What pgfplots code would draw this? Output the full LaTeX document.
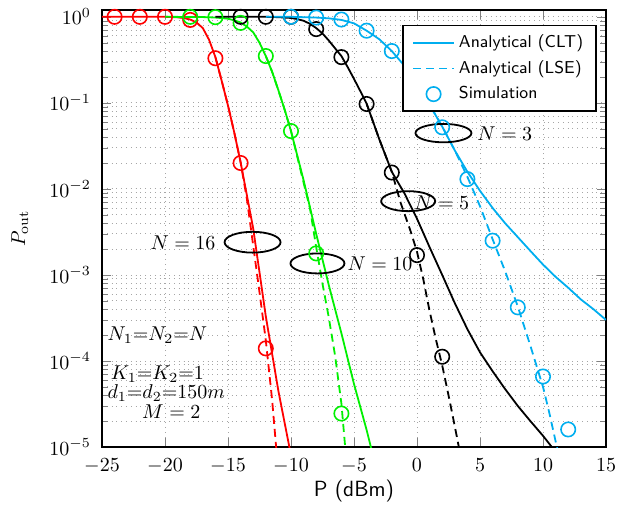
\documentclass[border=0pt]{standalone}
\usepackage{pgfplots}
\pgfplotsset{compat=1.18}
\definecolor{cred}{RGB}{255,0,0}
\definecolor{cgreen}{RGB}{0,240,0}
\definecolor{cblue}{RGB}{0,174,239}
\pgfplotsset{
  longline/.style={legend image code/.code={\draw[##1] (0cm,0cm) -- (0.72cm,0cm);}},
  circlemark/.style={legend image code/.code={\draw[##1] (0.36cm,0cm) circle (3.6pt);}},
}
\begin{document}
\begin{tikzpicture}
\begin{axis}[
  scale only axis,
  width=252pt, height=218.5pt,
  xmin=-25, xmax=15,
  ymin=1e-5, ymax=1.2,
  ymode=log,
  xtick={-25,-20,...,15},
  grid=both,
  major grid style={dotted, gray!70},
  minor grid style={dotted, gray!70},
  axis line style={line width=0.8pt},
  xticklabel style={yshift=-2.2pt},
  yticklabel style={xshift=-2pt},
  xlabel={\fontsize{11}{13}\selectfont\sffamily P (dBm)},
  xlabel style={at={(axis description cs:0.5,0)}, anchor=center, yshift=-22pt},
  ylabel={$P_{\mathrm{out}}$},
  ylabel style={at={(axis description cs:-0.163,0.5)}, anchor=center},
  legend style={at={(0.982,0.966)}, anchor=north east,
    font=\sffamily\fontsize{8.6}{10}\selectfont,
    draw=black, line width=0.8pt, fill=white, row sep=1pt, cells={anchor=west},
    inner xsep=4.5pt, inner ysep=2.5pt},
  every axis plot/.append style={line width=0.9pt},
]
\addlegendimage{cblue, solid, line width=0.9pt, longline}
\addlegendentry{Analytical (CLT)}
\addlegendimage{cblue, dash pattern=on 4pt off 2.5pt, line width=0.9pt, longline}
\addlegendentry{Analytical (LSE)}
\addlegendimage{cblue, line width=0.8pt, circlemark}
\addlegendentry{Simulation}

% N = 16
\addplot[cred, forget plot] coordinates {
  (-25,1) (-20,1) (-19.5,0.995) (-19,0.986) (-18.5,0.966) (-18,0.93) (-17.5,0.86)
  (-17,0.74) (-16.5,0.54) (-16,0.34) (-15.5,0.18) (-15,0.093) (-14.5,0.045)
  (-14,0.0204) (-13,3.47e-3) (-12,3.31e-4) (-11,4.47e-5) (-10.13,1e-5) (-9.8,5.6e-6)
};
\addplot[cred, dash pattern=on 4pt off 2.5pt, forget plot] coordinates {
  (-16,0.34) (-15.5,0.18) (-15,0.093) (-14.5,0.045) (-14,0.0204) (-13.5,7.6e-3)
  (-13,2.19e-3) (-12.5,6.3e-4) (-12,1.74e-4) (-11.5,3.55e-5) (-11.18,1e-5) (-11.0,5e-6)
};
\addplot[cred, only marks, mark=o, mark size=3.6pt, mark options={line width=0.8pt}, forget plot] coordinates {
  (-24,1) (-22,1) (-20,1) (-18,0.92) (-16,0.33) (-14,0.020) (-12,1.4e-4)
};

% N = 10
\addplot[cgreen, forget plot] coordinates {
  (-20,1) (-17,0.993) (-16.5,0.988) (-16,0.98) (-15.5,0.967) (-15,0.95) (-14.5,0.91)
  (-14,0.86) (-13.5,0.77) (-13,0.66) (-12.5,0.5) (-12,0.35) (-11.5,0.23) (-11,0.14)
  (-10.5,0.083) (-10,0.047) (-9,0.0126) (-8,3.0e-3) (-7,7.6e-4) (-6,2.1e-4)
  (-5,5.4e-5) (-4,1.58e-5) (-3.66,1e-5) (-3.3,6e-6)
};
\addplot[cgreen, dash pattern=on 4pt off 2.5pt, forget plot] coordinates {
  (-12,0.35) (-11.5,0.23) (-11,0.14) (-10.5,0.083) (-10,0.047) (-9,0.0118)
  (-8.5,6e-3) (-8,2.1e-3) (-7.5,7.9e-4) (-7,3.2e-4) (-6.5,1.15e-4) (-6,3.2e-5)
  (-5.7,1e-5) (-5.55,5e-6)
};
\addplot[cgreen, only marks, mark=o, mark size=3.6pt, mark options={line width=0.8pt}, forget plot] coordinates {
  (-18,1) (-16,0.99) (-14,0.85) (-12,0.35) (-10,0.047) (-8,1.78e-3) (-6,2.45e-5)
};

% N = 5
\addplot[black, forget plot] coordinates {
  (-16,1) (-12,1) (-11,0.99) (-10,0.97) (-9.5,0.94) (-9,0.9) (-8.5,0.83) (-8,0.74)
  (-7.5,0.64) (-7,0.53) (-6.5,0.43) (-6,0.35) (-5.5,0.26) (-5,0.19) (-4.5,0.137)
  (-4,0.098) (-3,0.038) (-2,0.0158) (-1,8.9e-3) (0,4.5e-3) (1,2.1e-3)
  (2,1.0e-3) (3,4.7e-4) (4,2.34e-4) (5,1.26e-4) (6,7.6e-5) (7,4.7e-5) (8,3.0e-5)
  (9,2.0e-5) (10,1.35e-5) (10.7,1e-5) (11.5,7e-6)
};
\addplot[black, dash pattern=on 4pt off 2.5pt, forget plot] coordinates {
  (-4,0.098) (-3,0.038) (-2,0.0158) (-1.3,6.9e-3) (-0.5,3.2e-3) (0,1.86e-3)
  (0.5,8.9e-4) (1,3.8e-4) (1.5,1.78e-4) (2,8.9e-5) (2.5,4e-5) (3,1.74e-5)
  (3.32,1e-5) (3.5,6e-6)
};
\addplot[black, only marks, mark=o, mark size=3.6pt, mark options={line width=0.8pt}, forget plot] coordinates {
  (-14,1) (-12,1) (-10,1) (-8,0.72) (-6,0.34) (-4,0.097) (-2,0.0155) (0,1.7e-3) (2,1.12e-4)
};

% N = 3
\addplot[cblue, forget plot] coordinates {
  (-12,1) (-10,1) (-9,0.99) (-8,0.98) (-7,0.96) (-6,0.92) (-5,0.84) (-4,0.69)
  (-3,0.55) (-2,0.40) (-1,0.27) (0,0.16) (1,0.095) (2,0.053) (3,0.028) (4,0.0158)
  (5,9.5e-3) (6,6.0e-3) (7,3.98e-3) (8,2.75e-3) (9,1.9e-3) (10,1.32e-3)
  (11,9.5e-4) (12,7.1e-4) (13,5.2e-4) (14,4.0e-4) (15,3.0e-4)
};
\addplot[cblue, dash pattern=on 4pt off 2.5pt, forget plot] coordinates {
  (0,0.16) (1,0.095) (2,0.053) (3,0.028) (4,0.0138) (5,6.3e-3) (6,2.6e-3)
  (7,1.1e-3) (8,4.3e-4) (9,1.5e-4) (10,5e-5) (10.5,2.5e-5) (11.1,1e-5) (11.4,6e-6)
};
\addplot[cblue, only marks, mark=o, mark size=3.6pt, mark options={line width=0.8pt}, forget plot] coordinates {
  (-10,1) (-8,0.98) (-6,0.93) (-4,0.69) (-2,0.40) (0,0.16) (2,0.052) (4,0.013)
  (6,2.5e-3) (8,4.2e-4) (10,6.6e-5) (12,1.6e-5)
};

% annotations
\draw[line width=0.9pt] (axis cs:-13.05,2.4e-3) ellipse [x radius=14pt, y radius=5.2pt];
\draw[line width=0.9pt] (axis cs:-7.9,1.36e-3) ellipse [x radius=13.5pt, y radius=5pt];
\draw[line width=0.9pt] (axis cs:-0.7,7.2e-3) ellipse [x radius=13.5pt, y radius=5pt];
\draw[line width=0.9pt] (axis cs:2.1,0.0445) ellipse [x radius=14pt, y radius=4.6pt];
\node[anchor=east, inner sep=1pt] at (axis cs:-15.8,2.4e-3) {$N=16$};
\node[anchor=west, inner sep=1pt] at (axis cs:-5.7,1.36e-3) {$N=10$};
\node[anchor=west, inner sep=1pt] at (axis cs:-0.4,7.0e-3) {$N=5$};
\node[anchor=west, inner sep=1pt] at (axis cs:4.6,0.0433) {$N=3$};
\node at (axis cs:-20.6,1.97e-4) {$N_1{=}N_2{=}N$};
\node at (axis cs:-20.6,7.1e-5) {$K_1{=}K_2{=}1$};
\node at (axis cs:-19.9,4.26e-5) {$d_1{=}d_2{=}150m$};
\node at (axis cs:-19.5,2.56e-5) {$M=2$};
\end{axis}
\pgfresetboundingbox
\path ([shift={(-51pt,-32.5pt)}]current axis.south west) rectangle ([shift={(7pt,5pt)}]current axis.north east);
\end{tikzpicture}
\end{document}
